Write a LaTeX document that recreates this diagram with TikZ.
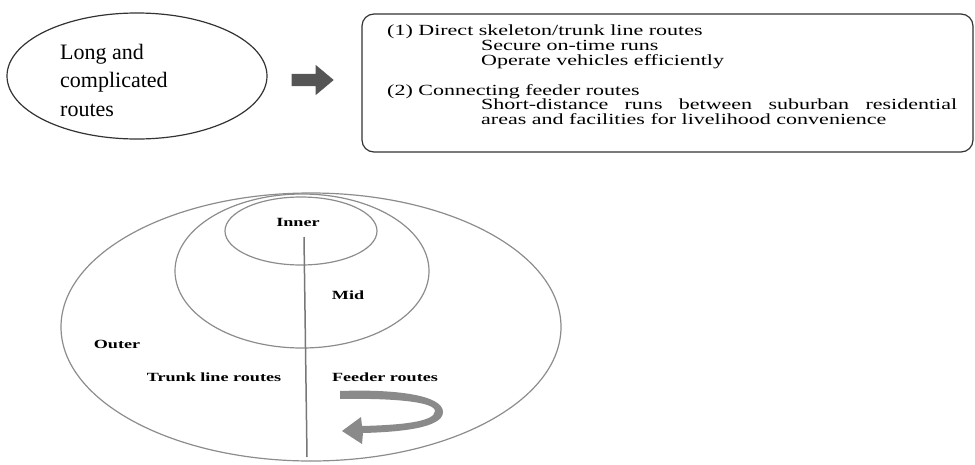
\documentclass[tikz,border=0pt]{standalone}
\usepackage{fontspec}
\setmainfont{Liberation Serif}
\newfontfamily\boxfont[FakeStretch=1.42]{Liberation Serif}
\newfontfamily\zonefont[FakeStretch=1.45]{Liberation Serif}
\usetikzlibrary{shapes.geometric,shapes.arrows}

\definecolor{inkdark}{HTML}{333333}
\definecolor{ringgray}{HTML}{8C8C8C}
\definecolor{arrowgray}{HTML}{555555}
\definecolor{loopgray}{HTML}{8A8A8A}

\tikzset{
  ring/.style={ellipse, draw=ringgray, line width=1.2pt, inner sep=0pt},
  zonelabel/.style={font=\zonefont\bfseries\fontsize{12.5}{14}\selectfont, inner sep=0pt},
}

\begin{document}
\begin{tikzpicture}[x=1pt,y=-1pt]
\def\indent{94pt}
\useasboundingbox (0,0) rectangle (975,464);

% top row
\node[ellipse, draw=inkdark, line width=1.2pt, minimum width=260, minimum height=126, inner sep=0pt] (long) at (137,76) {};
\node[align=left, anchor=west, inner sep=0pt, font=\fontsize{22}{28.5}\selectfont] (longtxt) at (60,80) {Long and\\complicated\\routes};

\node[single arrow, fill=arrowgray, inner sep=6pt, minimum height=42, single arrow head extend=9pt, single arrow tip angle=80] (go) at (309,80) {};

\node[draw=inkdark, line width=1.2pt, rounded corners=12pt, minimum width=611, minimum height=138, inner sep=0pt] (goals) at (667.5,83) {};
\node[anchor=north west, align=left, inner sep=0pt, font=\boxfont\fontsize{15.5}{14.7}\selectfont] (goaltxt) at (387,25) {%
(1) Direct skeleton/trunk line routes\\
\hspace*{\indent}Secure on-time runs\\
\hspace*{\indent}Operate vehicles efficiently\\[15pt]
(2) Connecting feeder routes\\
\hspace*{\indent}\makebox[476pt][s]{Short-distance runs between suburban residential}\\
\hspace*{\indent}areas and facilities for livelihood convenience};

% zones
\node[ring, minimum width=500, minimum height=268] (outer) at (311,327) {};
\node[ring, minimum width=254, minimum height=154] (mid) at (302,271) {};
\node[ring, minimum width=152, minimum height=68] (inner) at (301,231) {};

\coordinate (axistop) at (304,237);
\coordinate (axisbot) at (307,457);
\draw[ringgray!85!black, line width=1.5pt] (axistop) -- (axisbot);

\node[zonelabel] (innerlbl) at (298,222) {Inner};
\node[zonelabel] (midlbl) at (348,295) {Mid};
\node[zonelabel] (outerlbl) at (117,344) {Outer};
\node[zonelabel] (trunklbl) at (214,377) {Trunk line routes};
\node[zonelabel] (feederlbl) at (385,377) {Feeder routes};

% turning arrow
\fill[loopgray] (340,391) .. controls (395,389) and (443,395) .. (443,412)
  .. controls (443,428) and (400,432) .. (363,433) -- (362,444) -- (342,431)
  -- (361,417) -- (362,426) .. controls (400,425) and (435,422) .. (435,411)
  .. controls (435,402) and (395,398) .. (340,399) -- cycle;
\end{tikzpicture}
\end{document}
